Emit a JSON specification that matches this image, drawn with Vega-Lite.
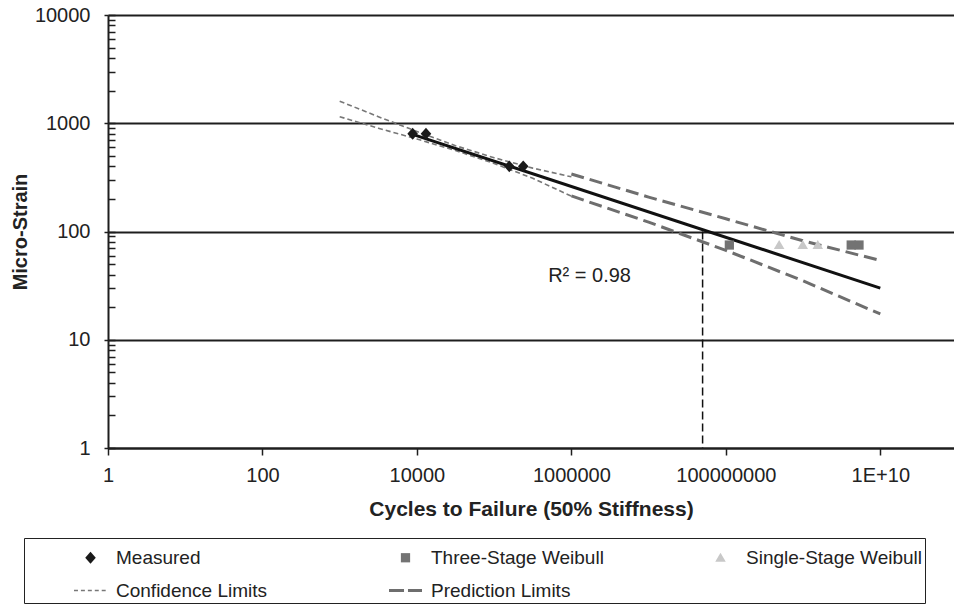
{
  "$schema": "https://vega.github.io/schema/vega-lite/v6.json",
  "width": 846,
  "height": 433,
  "autosize": {"type": "none"},
  "padding": {"left": 108, "top": 15, "right": 0, "bottom": 156},
  "config": {"font": "Liberation Sans", "view": {"stroke": null}},
  "datasets": {
    "points": [
      {"series": "Measured", "cycles": 8800, "strain": 800},
      {"series": "Measured", "cycles": 13100, "strain": 800},
      {"series": "Measured", "cycles": 157000, "strain": 400},
      {"series": "Measured", "cycles": 238000, "strain": 400},
      {"series": "Three-Stage Weibull", "cycles": 111000000, "strain": 75},
      {"series": "Three-Stage Weibull", "cycles": 4200000000, "strain": 75},
      {"series": "Three-Stage Weibull", "cycles": 5300000000, "strain": 75},
      {"series": "Single-Stage Weibull", "cycles": 490000000, "strain": 75},
      {"series": "Single-Stage Weibull", "cycles": 990000000, "strain": 75},
      {"series": "Single-Stage Weibull", "cycles": 1550000000, "strain": 75}
    ],
    "fit": [
      {"cycles": 8800, "strain": 790},
      {"cycles": 10000000000, "strain": 30}
    ],
    "conf": [
      {"bound": "upper", "cycles": 1000, "strain": 1600},
      {"bound": "upper", "cycles": 3162, "strain": 1150},
      {"bound": "upper", "cycles": 10000, "strain": 840},
      {"bound": "upper", "cycles": 31623, "strain": 620},
      {"bound": "upper", "cycles": 100000, "strain": 480},
      {"bound": "upper", "cycles": 316228, "strain": 385},
      {"bound": "upper", "cycles": 1000000, "strain": 320},
      {"bound": "lower", "cycles": 1000, "strain": 1150},
      {"bound": "lower", "cycles": 3162, "strain": 900},
      {"bound": "lower", "cycles": 10000, "strain": 715},
      {"bound": "lower", "cycles": 31623, "strain": 560},
      {"bound": "lower", "cycles": 100000, "strain": 425},
      {"bound": "lower", "cycles": 316228, "strain": 310},
      {"bound": "lower", "cycles": 1000000, "strain": 212}
    ],
    "pred": [
      {"bound": "upper", "cycles": 1000000, "strain": 340},
      {"bound": "upper", "cycles": 10000000, "strain": 208},
      {"bound": "upper", "cycles": 100000000, "strain": 131},
      {"bound": "upper", "cycles": 1000000000, "strain": 82},
      {"bound": "upper", "cycles": 10000000000, "strain": 54},
      {"bound": "lower", "cycles": 1000000, "strain": 213},
      {"bound": "lower", "cycles": 10000000, "strain": 122},
      {"bound": "lower", "cycles": 100000000, "strain": 67},
      {"bound": "lower", "cycles": 1000000000, "strain": 35},
      {"bound": "lower", "cycles": 10000000000, "strain": 17.3}
    ],
    "vline": [
      {"cycles": 50000000, "top": 100, "bottom": 1}
    ],
    "label": [
      {"cycles": 500000, "strain": 34.2, "text": "R² = 0.98"}
    ]
  },
  "resolve": {"axis": {"y": "independent"}},
  "layer": [
    {
      "data": {"name": "conf"},
      "mark": {"type": "line", "color": "#777777", "strokeWidth": 1.6, "strokeDash": [5, 3]},
      "encoding": {
        "x": {"field": "cycles", "type": "quantitative", "scale": {"type": "log", "domain": [1, 90000000000], "nice": false}},
        "y": {"field": "strain", "type": "quantitative", "scale": {"type": "log", "domain": [1, 10000], "nice": false}, "axis": null},
        "detail": {"field": "bound"}
      }
    },
    {
      "data": {"name": "pred"},
      "mark": {"type": "line", "color": "#6e6e6e", "strokeWidth": 3, "strokeDash": [13, 6]},
      "encoding": {
        "x": {"field": "cycles", "type": "quantitative", "scale": {"type": "log", "domain": [1, 90000000000], "nice": false}},
        "y": {"field": "strain", "type": "quantitative", "scale": {"type": "log", "domain": [1, 10000], "nice": false}, "axis": null},
        "detail": {"field": "bound"}
      }
    },
    {
      "data": {"name": "fit"},
      "mark": {"type": "line", "color": "#111111", "strokeWidth": 3},
      "encoding": {
        "x": {
          "field": "cycles", "type": "quantitative",
          "scale": {"type": "log", "domain": [1, 90000000000], "nice": false},
          "axis": {
            "title": "Cycles to Failure (50% Stiffness)",
            "values": [1, 100, 10000, 1000000, 100000000, 10000000000],
            "labelExpr": "datum.value >= 1e10 ? '1E+10' : format(datum.value, 'd')",
            "grid": false,
            "domainColor": "#1e1e1e", "domainWidth": 2,
            "tickColor": "#1e1e1e", "tickWidth": 1.5, "tickSize": 7,
            "labelFontSize": 20, "labelColor": "#222222", "labelPadding": 10,
            "labelFlush": false, "labelOverlap": false, "labelBound": false,
            "titleFontSize": 21, "titleFontWeight": "bold", "titleColor": "#222222", "titlePadding": 13
          }
        },
        "y": {
          "field": "strain", "type": "quantitative",
          "scale": {"type": "log", "domain": [1, 10000], "nice": false},
          "axis": {
            "orient": "left",
            "title": "Micro-Strain",
            "values": [1, 10, 100, 1000, 10000],
            "format": "d",
            "grid": true, "gridColor": "#1e1e1e", "gridWidth": 2,
            "domainColor": "#1e1e1e", "domainWidth": 2,
            "tickColor": "#1e1e1e", "tickWidth": 1.5, "tickSize": 4,
            "labelFontSize": 20, "labelColor": "#222222", "labelPadding": 14,
            "labelFlush": false, "labelOverlap": false,
            "titleFontSize": 20, "titleFontWeight": "bold", "titleColor": "#222222", "titlePadding": 4
          }
        }
      }
    },
    {
      "data": {"name": "vline"},
      "mark": {"type": "rule", "color": "#111111", "strokeWidth": 1.5, "strokeDash": [8, 4]},
      "encoding": {
        "x": {"field": "cycles", "type": "quantitative", "scale": {"type": "log", "domain": [1, 90000000000], "nice": false}},
        "y": {
          "field": "top", "type": "quantitative",
          "scale": {"type": "log", "domain": [1, 10000], "nice": false},
          "axis": {
            "orient": "left", "title": null, "labels": false, "domain": false, "grid": false,
            "values": [1, 2, 3, 4, 5, 6, 7, 8, 9, 10, 20, 30, 40, 50, 60, 70, 80, 90, 100, 200, 300, 400, 500, 600, 700, 800, 900, 1000, 2000, 3000, 4000, 5000, 6000, 7000, 8000, 9000, 10000],
            "tickSize": -7, "tickWidth": 1.5, "tickColor": "#1e1e1e"
          }
        },
        "y2": {"field": "bottom"}
      }
    },
    {
      "data": {"name": "points"},
      "mark": {"type": "point", "filled": true, "opacity": 1, "size": 1089},
      "encoding": {
        "x": {"field": "cycles", "type": "quantitative", "scale": {"type": "log", "domain": [1, 90000000000], "nice": false}},
        "y": {"field": "strain", "type": "quantitative", "scale": {"type": "log", "domain": [1, 10000], "nice": false}, "axis": null},
        "color": {
          "field": "series", "type": "nominal",
          "scale": {
            "domain": ["Measured", "Three-Stage Weibull", "Single-Stage Weibull", "Confidence Limits", "Prediction Limits"],
            "range": ["#1a1a1a", "#737373", "#c8c8c8", "#777777", "#6e6e6e"]
          },
          "legend": {
            "title": " ", "titleOrient": "left", "titleFontSize": 1, "titlePadding": 47, "titleAngle": 0,
            "orient": "none", "legendX": -84, "legendY": 523,
            "columns": 3, "direction": "horizontal", "gridAlign": "all",
            "columnPadding": 95, "rowPadding": 5, "padding": 2,
            "strokeColor": "#222222",
            "symbolSize": 1089,
            "labelFontSize": 19, "labelColor": "#222222", "labelOffset": 8, "labelLimit": 400,
            "encode": {
              "legend": {"strokeWidth": {"value": 2}},
              "symbols": {
                "shape": {
                  "condition": [
                    {"test": "datum.value == 'Confidence Limits'", "value": "M-1,-0.05H-0.76V0.05H-1ZM-0.58,-0.05H-0.34V0.05H-0.58ZM-0.16,-0.05H0.08V0.05H-0.16ZM0.26,-0.05H0.5V0.05H0.26ZM0.68,-0.05H0.92V0.05H0.68Z"},
                    {"test": "datum.value == 'Prediction Limits'", "value": "M-1,-0.09H-0.09V0.09H-1ZM0.15,-0.09H1V0.09H0.15Z"},
                    {"test": "datum.value == 'Three-Stage Weibull'", "value": "M-0.28,-0.28H0.28V0.28H-0.28Z"},
                    {"test": "datum.value == 'Single-Stage Weibull'", "value": "M0,-0.3L0.32,0.24H-0.32Z"}
                  ],
                  "value": "M0,-0.36L0.32,0L0,0.36L-0.32,0Z"
                },
                "opacity": {"value": 1}
              }
            }
          }
        },
        "shape": {
          "field": "series", "type": "nominal",
          "scale": {
            "domain": ["Measured", "Three-Stage Weibull", "Single-Stage Weibull", "Confidence Limits", "Prediction Limits"],
            "range": ["M0,-0.36L0.32,0L0,0.36L-0.32,0Z", "M-0.28,-0.28H0.28V0.28H-0.28Z", "M0,-0.3L0.32,0.24H-0.32Z", "M-1,-0.05H-0.76V0.05H-1ZM-0.58,-0.05H-0.34V0.05H-0.58ZM-0.16,-0.05H0.08V0.05H-0.16ZM0.26,-0.05H0.5V0.05H0.26ZM0.68,-0.05H0.92V0.05H0.68Z", "M-1,-0.09H-0.09V0.09H-1ZM0.15,-0.09H1V0.09H0.15Z"]
          },
          "legend": null
        }
      }
    },
    {
      "data": {"name": "label"},
      "mark": {"type": "text", "align": "left", "baseline": "alphabetic", "fontSize": 20, "color": "#222222"},
      "encoding": {
        "x": {"field": "cycles", "type": "quantitative", "scale": {"type": "log", "domain": [1, 90000000000], "nice": false}},
        "y": {"field": "strain", "type": "quantitative", "scale": {"type": "log", "domain": [1, 10000], "nice": false}, "axis": null},
        "text": {"field": "text"}
      }
    }
  ]
}
